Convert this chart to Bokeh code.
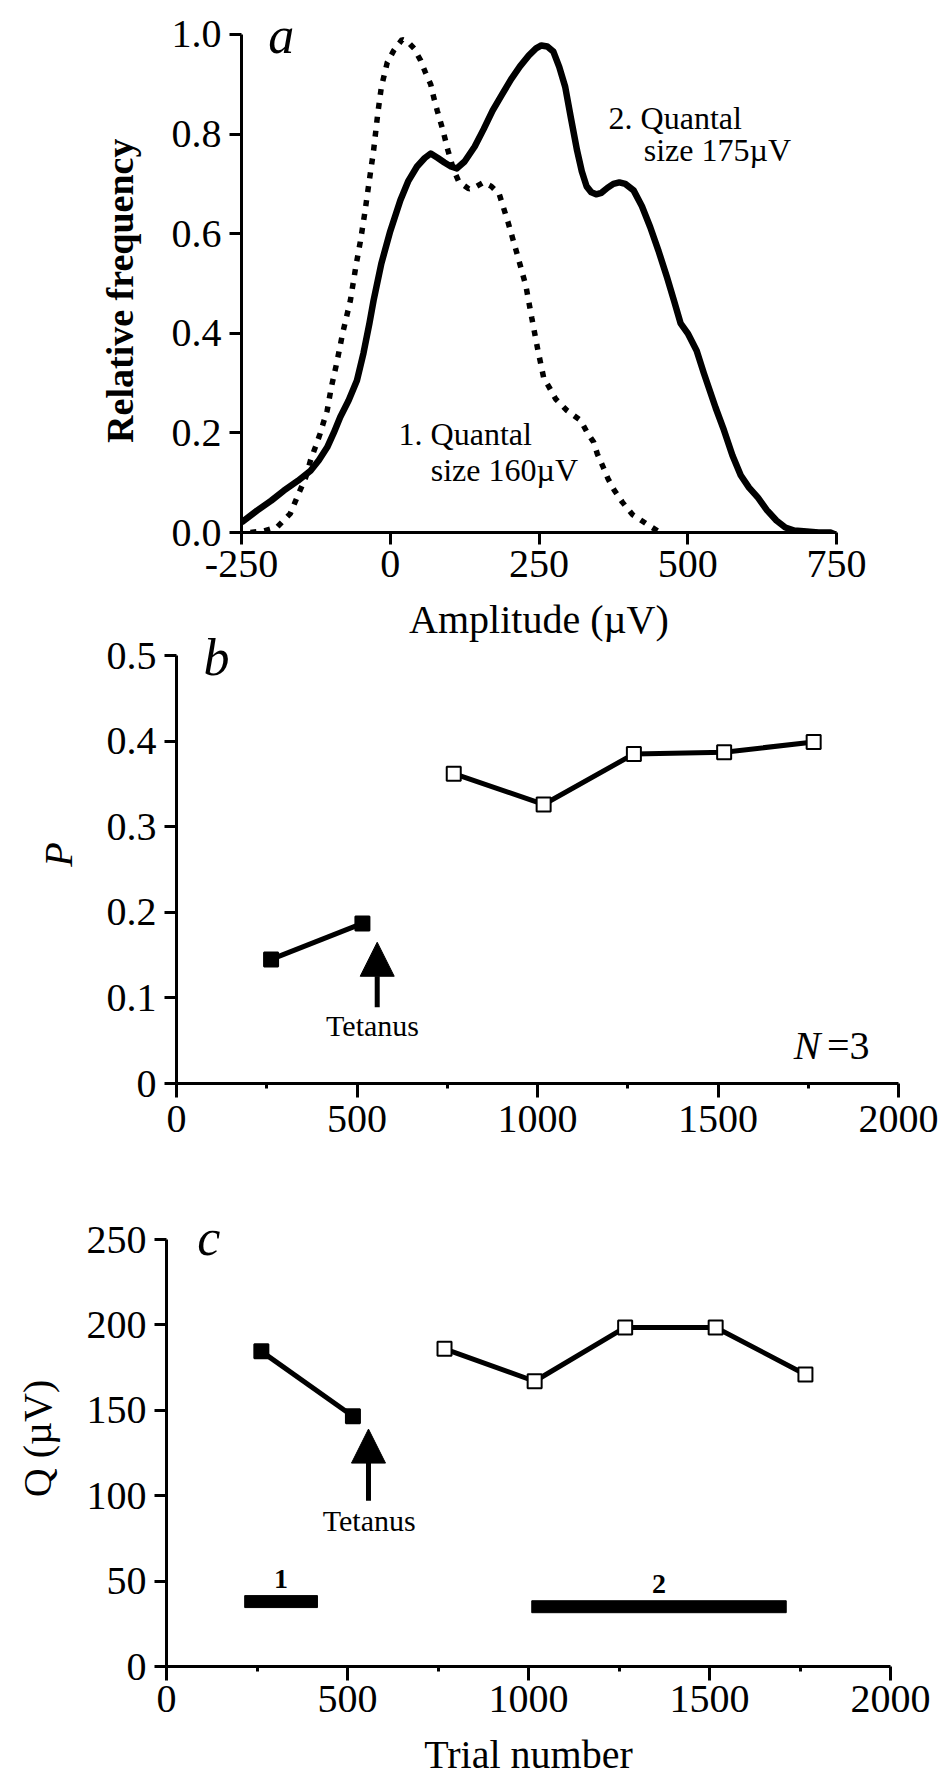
import math
from bokeh.plotting import figure
from bokeh.models import Range1d, FixedTicker, Label, Arrow, NormalHead
from bokeh.embed import file_html
from bokeh.resources import INLINE

# ---------------- data: panel a ----------------
AMP_TICKS = [-250, 0, 250, 500, 750]
AMP_TICK_LABELS = ["-250", "0", "250", "500", "750"]
FREQ_TICKS = [0.0, 0.2, 0.4, 0.6, 0.8, 1.0]
FREQ_TICK_LABELS = ["0.0", "0.2", "0.4", "0.6", "0.8", "1.0"]

SOLID_X = [-250, -224, -200, -179, -155, -134, -120, -106, -95, -84,
           -70, -56, -45, -35, -28, -15, 0, 17, 30, 45,
           58, 68, 80, 91, 102, 112, 125, 142, 157, 172,
           188, 203, 218, 233, 245, 254, 264, 274, 284, 294,
           304, 314, 322, 330, 338, 346, 355, 365, 375, 385,
           395, 409, 423, 437, 451, 465, 477, 488, 500, 515,
           527, 547, 561, 575, 589, 603, 618, 633, 649, 664,
           679, 700, 720, 740, 750]
SOLID_Y = [0.020, 0.044, 0.064, 0.084, 0.104, 0.124, 0.145, 0.171, 0.200, 0.232,
           0.265, 0.305, 0.360, 0.420, 0.466, 0.540, 0.605, 0.667, 0.705, 0.735,
           0.752, 0.761, 0.752, 0.743, 0.735, 0.731, 0.745, 0.775, 0.810, 0.847,
           0.880, 0.910, 0.936, 0.958, 0.972, 0.978, 0.976, 0.966, 0.935, 0.895,
           0.830, 0.767, 0.725, 0.695, 0.683, 0.679, 0.682, 0.692, 0.700, 0.703,
           0.700, 0.687, 0.655, 0.613, 0.565, 0.513, 0.465, 0.420, 0.400, 0.365,
           0.320, 0.250, 0.205, 0.155, 0.115, 0.090, 0.070, 0.045, 0.024, 0.010,
           0.004, 0.002, 0.000, 0.000, -0.005]

DOT_X = [-235, -212, -190, -168, -154, -142, -134, -126, -118, -113,
         -106, -99, -90, -80, -67, -58, -50, -43, -36, -28,
         -21, -15, -5, 6, 20, 30, 40, 51, 59, 68,
         73, 79, 88, 97, 106, 115, 132, 145, 157, 170,
         183, 198, 213, 228, 238, 248, 258, 267, 278, 297,
         320, 331, 342, 348, 358, 366, 376, 390, 407, 431,
         451, 479]
DOT_Y = [0.0, 0.003, 0.011, 0.038, 0.078, 0.111, 0.145, 0.171, 0.198, 0.218,
         0.245, 0.292, 0.34, 0.40, 0.466, 0.533, 0.586, 0.64, 0.70, 0.767,
         0.841, 0.894, 0.944, 0.968, 0.99, 0.985, 0.972, 0.948, 0.924, 0.90,
         0.874, 0.847, 0.81, 0.767, 0.73, 0.705, 0.69, 0.695, 0.703, 0.695,
         0.68, 0.623, 0.56, 0.495, 0.43, 0.367, 0.31, 0.292, 0.268, 0.245,
         0.225, 0.201, 0.181, 0.158, 0.131, 0.108, 0.086, 0.061, 0.036, 0.017,
         0.002, -0.01]

# ---------------- data: panels b and c ----------------
TRIAL_TICKS = [0, 500, 1000, 1500, 2000]
TRIAL_MINOR = [250, 750, 1250, 1750]
TRIAL_TICK_LABELS = ["0", "500", "1000", "1500", "2000"]

PRE_TRIALS = [262, 515]
POST_TRIALS = [768, 1017, 1267, 1517, 1765]

P_TICKS = [0, 0.1, 0.2, 0.3, 0.4, 0.5]
P_TICK_LABELS = ["0", "0.1", "0.2", "0.3", "0.4", "0.5"]
P_PRE = [0.145, 0.187]
P_POST = [0.362, 0.326, 0.385, 0.387, 0.399]

Q_TICKS = [0, 50, 100, 150, 200, 250]
Q_TICK_LABELS = ["0", "50", "100", "150", "200", "250"]
Q_PRE = [184.5, 146.5]
Q_POST = [186.0, 167.0, 198.5, 198.5, 171.0]

BAR_NAMES = ["1", "2"]
BAR_LEFT = [216, 1009]
BAR_RIGHT = [417, 1712]
BAR_Y = [38, 35]

SERIF = "Liberation Serif"
NBSP = "\u00a0"


def style_axes(p, xticks, xlabels, yticks, ylabels, xminor=None, xtick_out=12):
    p.xaxis.ticker = FixedTicker(ticks=xticks, minor_ticks=xminor or [])
    p.yaxis.ticker = FixedTicker(ticks=yticks)
    p.yaxis.bounds = (yticks[0], yticks[-1])
    p.xaxis.major_label_overrides = {t: l for t, l in zip(xticks, xlabels)}
    p.yaxis.major_label_overrides = {t: l for t, l in zip(yticks, ylabels)}
    for ax in (p.xaxis, p.yaxis):
        ax.axis_line_width = 3
        ax.axis_line_color = "black"
        ax.major_tick_line_width = 3
        ax.major_tick_line_color = "black"
        ax.major_tick_in = 0
        ax.minor_tick_in = 0
        ax.minor_tick_line_width = 3
        ax.minor_tick_line_color = "black"
        ax.major_label_text_font = SERIF
        ax.major_label_text_font_size = "40px"
        ax.major_label_text_color = "black"
        ax.axis_label_text_font = SERIF
        ax.axis_label_text_font_size = "40px"
        ax.axis_label_text_color = "black"
        ax.axis_label_text_font_style = "normal"
    p.yaxis.major_tick_out = 12
    p.yaxis.minor_tick_out = 0
    p.xaxis.major_tick_out = xtick_out
    p.xaxis.minor_tick_out = 5
    p.yaxis.major_label_standoff = 8
    p.xaxis.major_label_standoff = 8
    p.xgrid.visible = False
    p.ygrid.visible = False
    p.outline_line_color = None
    p.background_fill_color = "white"
    p.border_fill_color = "white"


def lab(p, text, x, y, size="32px", style="normal", align="left", angle=0.0):
    p.add_layout(Label(x=x, y=y, text=text, text_font=SERIF, text_font_size=size,
                       text_font_style=style, text_align=align, level="overlay",
                       text_baseline="middle", angle=angle, text_color="black"))


# ---------------- panel a ----------------
pa = figure(width=942, height=595, x_range=Range1d(-250, 750), y_range=Range1d(0, 1.0281),
            output_backend="svg", toolbar_location=None,
            min_border_left=241, min_border_right=106, min_border_top=20, min_border_bottom=63)
style_axes(pa, AMP_TICKS, AMP_TICK_LABELS, FREQ_TICKS, FREQ_TICK_LABELS)
pa.xaxis.major_label_standoff = 6
pa.line(DOT_X, DOT_Y, line_color="black", line_width=5.5, line_dash="6 8")
pa.line(SOLID_X, SOLID_Y, line_color="black", line_width=6.5, line_join="round")
lab(pa, "a", -205, 0.997, size="52px", style="italic")
lab(pa, "1. Quantal", 14, 0.197)
lab(pa, "size 160\u00b5V", 68, 0.126)
lab(pa, "2. Quantal", 367, 0.833)
lab(pa, "size 175\u00b5V", 426, 0.769)
pa.yaxis.axis_label = "Relative frequency" + NBSP * 3
pa.yaxis.axis_label_text_font_style = "bold"
pa.yaxis.axis_label_text_font_size = "38px"
pa.yaxis.axis_label_standoff = 28

# ---------------- panel b ----------------
pb = figure(width=942, height=595, x_range=Range1d(0, 2000), y_range=Range1d(0, 0.5701),
            output_backend="svg", toolbar_location=None,
            min_border_left=176, min_border_right=44, min_border_top=0, min_border_bottom=107)
style_axes(pb, TRIAL_TICKS, TRIAL_TICK_LABELS, P_TICKS, P_TICK_LABELS, TRIAL_MINOR, 14)
# x-axis title of panel a, drawn in the white band above panel b
lab(pb, "Amplitude (\u00b5V)", 1004, 0.5415, size="40px", align="center")
pb.line(PRE_TRIALS, P_PRE, line_color="black", line_width=5)
pb.line(POST_TRIALS, P_POST, line_color="black", line_width=5)
pb.scatter(PRE_TRIALS, P_PRE, marker="square", size=14, fill_color="black",
           line_color="black", line_width=2)
pb.scatter(POST_TRIALS, P_POST, marker="square", size=14, fill_color="white",
           line_color="black", line_width=2)
pb.add_layout(Arrow(end=NormalHead(size=34, fill_color="black", line_color="black"),
                    x_start=556, y_start=0.089, x_end=556, y_end=0.165,
                    line_width=5, line_color="black"))
lab(pb, "Tetanus", 543, 0.0678, size="30px", align="center")
lab(pb, "b", 75, 0.4975, size="52px", style="italic")
lab(pb, "N", 1710, 0.0448, size="40px", style="italic")
lab(pb, "=3", 1802, 0.0448, size="40px")
pb.yaxis.axis_label = "P" + NBSP * 3
pb.yaxis.axis_label_text_font_style = "italic"
pb.yaxis.axis_label_standoff = 23

# ---------------- panel c ----------------
pc = figure(width=942, height=590, x_range=Range1d(0, 2000), y_range=Range1d(0, 255.27),
            output_backend="svg", toolbar_location=None,
            min_border_left=166, min_border_right=52, min_border_top=40, min_border_bottom=114)
style_axes(pc, TRIAL_TICKS, TRIAL_TICK_LABELS, Q_TICKS, Q_TICK_LABELS, TRIAL_MINOR, 14)
pc.xaxis.major_label_standoff = 5
pc.line(PRE_TRIALS, Q_PRE, line_color="black", line_width=5)
pc.line(POST_TRIALS, Q_POST, line_color="black", line_width=5)
pc.scatter(PRE_TRIALS, Q_PRE, marker="square", size=14, fill_color="black",
           line_color="black", line_width=2)
pc.scatter(POST_TRIALS, Q_POST, marker="square", size=14, fill_color="white",
           line_color="black", line_width=2)
pc.hbar(y=BAR_Y, left=BAR_LEFT, right=BAR_RIGHT, height=7, fill_color="black",
        line_color="black")
for name, l, r, yv in zip(BAR_NAMES, BAR_LEFT, BAR_RIGHT, BAR_Y):
    lab(pc, name, (l + r) / 2, yv + 13.5, size="28px", style="bold", align="center")
pc.add_layout(Arrow(end=NormalHead(size=34, fill_color="black", line_color="black"),
                    x_start=558, y_start=97, x_end=558, y_end=139,
                    line_width=5, line_color="black"))
lab(pc, "Tetanus", 560, 85.4, size="30px", align="center")
lab(pc, "c", 85, 251.0, size="52px", style="italic")
pc.yaxis.axis_label = NBSP * 2 + "Q (\u00b5V)"
pc.yaxis.axis_label_standoff = 24
pc.xaxis.axis_label = "Trial number"
pc.xaxis.axis_label_standoff = 17

open("out.html", "w").write(file_html([pa, pb, pc], INLINE))
